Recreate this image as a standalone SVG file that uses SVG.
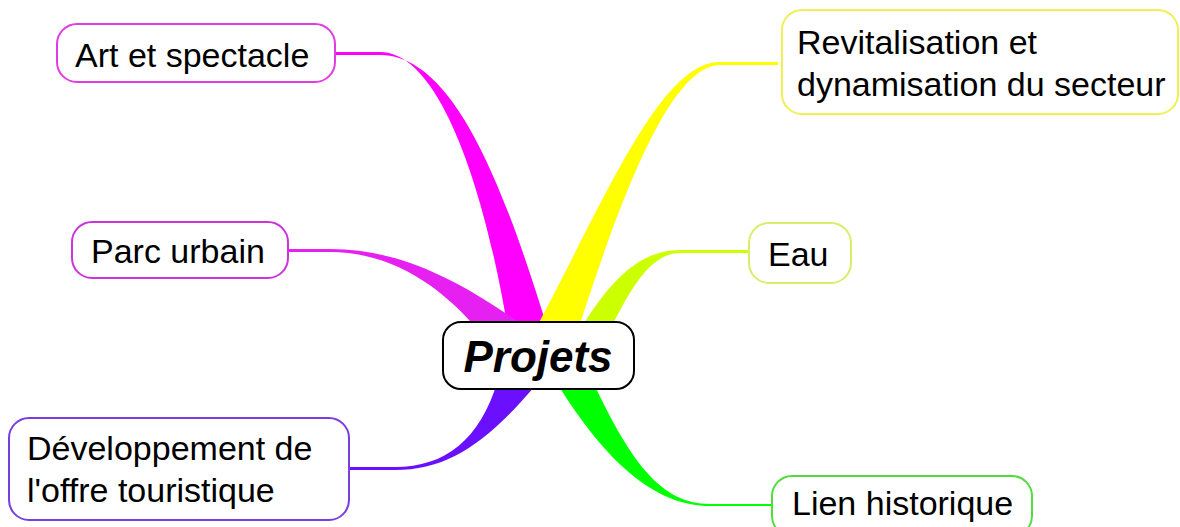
<svg xmlns="http://www.w3.org/2000/svg" width="1180" height="527" viewBox="0 0 1180 527">
<style>
.box{fill:#fff;stroke-width:2}
.t{font-family:"Liberation Sans",Arial,sans-serif;font-size:34px;fill:#000}
.c{font-family:"Liberation Sans",Arial,sans-serif;font-size:44px;font-weight:bold;font-style:italic;fill:#000;text-anchor:middle}
</style>
<rect width="1180" height="527" fill="#fff"/>
<g id="connectors">
<path d="M 333 52 L 380 52 C 440 52 485 190 508 330 L 548 330 C 505 190 455 55 380 55 L 333 55 Z" fill="#ff00ff"/>
<path d="M 285 249 L 330 249 C 400 249 460 280 530 330 L 478 330 C 440 285 390 252 330 252 L 285 252 Z" fill="#e620f0"/>
<path d="M 348 470 L 395 470 C 450 470 490 440 540 380 L 498 380 C 480 440 445 467 395 467 L 348 467 Z" fill="#6a10ff"/>
<path d="M 778 62 L 720 62 C 660 62 605 200 535 330 L 578 330 C 620 200 670 65 720 65 L 778 65 Z" fill="#ffff00"/>
<path d="M 749 250 L 680 250 C 640 250 610 280 580 330 L 610 330 C 630 290 650 253 680 253 L 749 253 Z" fill="#ccff00"/>
<path d="M 592 380 C 630 460 660 504 710 504 L 771 504 L 771 506 L 710 506 C 660 506 610 470 555 380 Z" fill="#00ff00"/>
</g>
<g id="n-art">
<rect class="box" x="57" y="24" width="278" height="58" rx="20" stroke="#e33be3"/>
<text class="t" x="75" y="67">Art et spectacle</text>
</g>
<g id="n-parc">
<rect class="box" x="72" y="222" width="216" height="56" rx="20" stroke="#cc33dd"/>
<text class="t" x="91" y="263">Parc urbain</text>
</g>
<g id="n-dev">
<rect class="box" x="9" y="418" width="340" height="102" rx="20" stroke="#7a3ee0"/>
<text class="t" x="27" y="460">Développement de</text>
<text class="t" x="27" y="502">l'offre touristique</text>
</g>
<g id="n-revit">
<rect class="box" x="782" y="10" width="396" height="104" rx="20" stroke="#eef055"/>
<text class="t" x="797" y="54">Revitalisation et</text>
<text class="t" x="797" y="96">dynamisation du secteur</text>
</g>
<g id="n-eau">
<rect class="box" x="749" y="223" width="102" height="60" rx="20" stroke="#d8ee66"/>
<text class="t" x="768" y="266">Eau</text>
</g>
<g id="n-lien">
<rect class="box" x="772" y="476" width="260" height="60" rx="20" stroke="#4edd3a"/>
<text class="t" x="792" y="515">Lien historique</text>
</g>
<g id="n-projets">
<rect class="box" x="443" y="322" width="191" height="67" rx="18" stroke="#000"/>
<text class="c" x="538" y="372">Projets</text>
</g>
</svg>
